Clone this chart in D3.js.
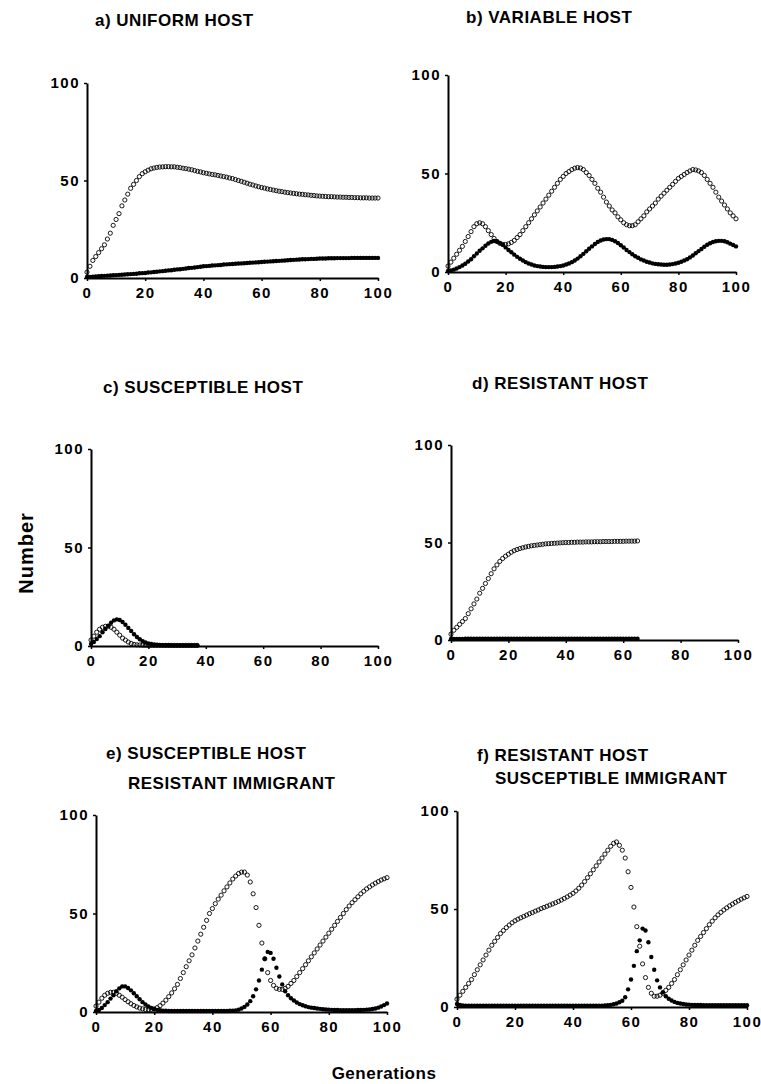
<!DOCTYPE html>
<html><head><meta charset="utf-8">
<script src="https://cdn.jsdelivr.net/npm/d3@7"></script>
<style>html,body{margin:0;padding:0;background:#fff;} svg{display:block;}</style>
</head><body>
<svg id="chart" width="761" height="1084"></svg>
<script>
// ---------- data (values per generation, starting at generation 0) ----------
const xTickValues = [0, 20, 40, 60, 80, 100];
const yTickValues = [0, 50, 100];

const titleA = ["a) UNIFORM HOST"];
const titleB = ["b) VARIABLE HOST"];
const titleC = ["c) SUSCEPTIBLE HOST"];
const titleD = ["d) RESISTANT HOST"];
const titleE = ["e) SUSCEPTIBLE HOST", "RESISTANT IMMIGRANT"];
const titleF = ["f) RESISTANT HOST", "SUSCEPTIBLE IMMIGRANT"];
const yAxisTitle = "Number";
const xAxisTitle = "Generations";

const aOpen = [3,6,9,11,13,15,17,20,23,27, 30,33,37,40,43,46,48,50,52,53.5,
  54.5,55.3,56,56.4,56.7,56.9,57,57.1,57.1,57, 57,56.8,56.6,56.3,56.1,55.8,55.5,55.1,54.7,54.4,
  54,53.7,53.4,53.1,52.9,52.6,52.3,52,51.7,51.3, 51,50.5,50,49.6,49.1,48.6,48.1,47.7,47.2,46.8,
  46.4,46.1,45.7,45.4,45.1,44.8,44.5,44.3,44,43.8, 43.6,43.4,43.2,43,42.9,42.7,42.6,42.4,42.3,42.1,
  42,41.9,41.8,41.7,41.7,41.6,41.5,41.5,41.4,41.4, 41.3,41.3,41.2,41.2,41.1,41.1,41.1,41,41,41,41];
const aFilled = [0.5,0.6,0.7,0.8,0.9,1,1.1,1.2,1.3,1.4, 1.5,1.6,1.7,1.8,1.9,2,2.1,2.2,2.4,2.5,
  2.6,2.8,2.9,3.1,3.2,3.4,3.5,3.7,3.9,4, 4.2,4.4,4.5,4.7,4.9,5.1,5.2,5.4,5.6,5.8,
  6,6.1,6.2,6.4,6.5,6.6,6.7,6.9,7,7.1, 7.2,7.3,7.4,7.5,7.6,7.7,7.8,7.9,8,8.1,
  8.2,8.3,8.4,8.5,8.6,8.7,8.8,8.9,9,9.1, 9.2,9.3,9.4,9.5,9.6,9.6,9.7,9.8,9.8,9.9,
  10,10,10,10.1,10.1,10.1,10.2,10.2,10.2,10.2, 10.2,10.3,10.3,10.3,10.3,10.3,10.3,10.3,10.3,10.3,10.3];

const bOpen = [3,5,7,9,11,13,15.5,18,20.5,23, 24.5,25,24.5,23,21,19,17,15.5,14.5,14,
  14,14.3,15,16,17.5,19,21,23,25,27, 29,31,33,35,37,39,41,43,45,47,
  48.5,50,51,52,52.7,53,52.8,52,50.5,49, 47,45,42.5,40.5,38,35.5,33.5,31.5,30,28,
  26.5,25,24,23.5,23.5,24,25.5,27,28.5,30.5, 32,33.5,35,37,38.5,40,41.5,43,44.5,46,
  47.5,48.5,49.5,50.5,51.3,52,51.8,51.3,50.5,49, 47,45,43,40.5,38,36,34,32,30,28.5,27];
const bFilled = [0.5,0.8,1.2,1.8,2.5,3.3,4.2,5.3,6.5,8, 9.4,10.8,12,13.3,14.5,15.3,15.7,15.5,14.8,13.8,
  12.5,11.2,10,8.8,7.7,6.7,5.8,5,4.3,3.8, 3.3,3,2.8,2.6,2.5,2.5,2.5,2.6,2.8,3,
  3.3,3.8,4.3,5,5.8,6.8,8,9.2,10.5,11.8, 13,14.2,15.2,16,16.5,16.7,16.7,16.3,15.6,14.7,
  13.6,12.4,11.2,10.1,9,8,7.2,6.4,5.8,5.2, 4.8,4.4,4.1,3.9,3.8,3.7,3.7,3.8,4,4.3,
  4.7,5.2,5.8,6.5,7.4,8.4,9.5,10.6,11.7,12.8, 13.8,14.6,15.2,15.6,15.8,15.8,15.6,15.1,14.4,13.7,13];

const cOpen = [3,5,7,8.5,9.5,10,10,9.5,8.5,7, 5.5,4,3,2,1.3,0.8,0.6,0.5,0.4,0.4,
  0.3,0.3,0.3,0.3,0.3,0.3,0.3,0.3,0.3,0.3, 0.3,0.3,0.3,0.3,0.3,0.3,0.3,0.3];
const cFilled = [1,2,3.5,5,7,8.6,10.3,11.8,13,13.5, 13.2,12.2,10.8,9.2,7.6,6,4.6,3.4,2.5,1.8,
  1.3,1,0.8,0.6,0.5,0.4,0.4,0.4,0.3,0.3, 0.3,0.3,0.3,0.3,0.3,0.3,0.3,0.3];

const dOpen = [3,5,6.5,8,9.5,11,13.5,16,18.5,21, 24,26.5,29,31.5,34,36.5,38.5,40.3,41.8,43,
  44,45,45.8,46.4,46.9,47.3,47.7,48,48.3,48.5, 48.7,48.9,49.1,49.3,49.4,49.5,49.6,49.7,49.8,49.9,
  50,50,50.1,50.1,50.2,50.2,50.2,50.3,50.3,50.3, 50.4,50.4,50.4,50.5,50.5,50.5,50.5,50.6,50.6,50.6,
  50.6,50.7,50.7,50.7,50.7,50.8];
const dFilled = [0.5,0.5,0.6,0.6,0.6,0.7,0.7,0.7,0.7,0.7, 0.7,0.7,0.7,0.7,0.7,0.7,0.7,0.7,0.7,0.7,
  0.7,0.7,0.7,0.7,0.7,0.7,0.7,0.7,0.7,0.7, 0.7,0.7,0.7,0.7,0.7,0.7,0.7,0.7,0.7,0.7,
  0.7,0.7,0.7,0.7,0.7,0.7,0.7,0.7,0.7,0.7, 0.7,0.7,0.7,0.7,0.7,0.7,0.7,0.7,0.7,0.7,
  0.7,0.7,0.7,0.7,0.7,0.7];

const eOpen = [3,5,7,8.5,9.5,10,10,9.5,8.5,7.5, 6.3,5.2,4.2,3.3,2.6,2,1.6,1.3,1.2,1.3,
  1.5,2.2,3.2,4.5,6,7.8,9.7,11.8,14,17, 20,23,26,29,32.5,36,39.5,43,46.5,50,
  52.5,55,57.3,59.3,61.5,63.5,65.5,67.5,69,70.3, 71,71,69.5,66,60,53,44,35,27,20,
  16,13.5,12,11.5,11.5,12,13,14.5,16,18, 20,22,24,26,28,30,32,34,36,38,
  40,42,44,46,48,50,52,53.8,55.5,57, 58.5,60,61.3,62.5,63.5,64.5,65.4,66.2,67,67.6,68.2];
const eFilled = [0.5,1,2,3.5,5,6.8,8.5,10.5,12,13, 13,12.2,11,9.5,8,6.5,5,3.8,2.8,2,
  1.5,1.1,0.9,0.7,0.6,0.5,0.5,0.5,0.5,0.5, 0.5,0.5,0.5,0.5,0.5,0.5,0.5,0.5,0.5,0.5,
  0.5,0.5,0.5,0.5,0.5,0.5,0.6,0.7,0.8,1.2, 1.8,2.6,3.8,5.5,8,11.5,16,21.5,27,30.5,
  30,27,22.5,18,14,10.5,8.5,7,5.8,4.8, 4,3.4,2.9,2.5,2.2,2,1.8,1.6,1.4,1.3,
  1.2,1.1,1,1,0.9,0.9,0.9,0.9,0.9,0.9, 1,1,1.1,1.2,1.3,1.5,1.8,2.2,2.8,3.5,4.3];

const fOpen = [4,6,8,10,12,14,16.5,19,21.5,24, 26.5,29,31.5,33.5,35.5,37.5,39,40.5,41.8,43,
  44,44.8,45.5,46.2,46.9,47.6,48.2,48.9,49.5,50.2, 50.8,51.4,52,52.6,53.2,53.9,54.6,55.4,56.2,57.1,
  58,59.2,60.6,62.2,64,66,68,70,72,74, 76,78,80,82,83.5,84.2,82.5,80,76,69,
  61,51,41,31,22,15,10,7,5.5,5.5, 6,7,8.5,10,12,14,16.5,19,21.5,24,
  26.5,29,31.5,34,36,38,40,42,43.8,45.5, 47,48.3,49.5,50.6,51.6,52.5,53.4,54.2,55,55.7,56.4];
const fFilled = [1.5,1,0.8,0.7,0.6,0.6,0.6,0.6,0.6,0.6, 0.6,0.6,0.6,0.6,0.6,0.6,0.6,0.6,0.6,0.6,
  0.6,0.6,0.6,0.6,0.6,0.6,0.6,0.6,0.6,0.6, 0.6,0.6,0.6,0.6,0.6,0.6,0.6,0.6,0.6,0.6,
  0.6,0.6,0.6,0.6,0.6,0.6,0.6,0.6,0.6,0.6, 0.7,0.8,0.9,1.1,1.4,1.8,2.4,3.2,5,9,
  14,21,28.5,34,40,39,33,25.5,19,13.6, 10,7.5,5.5,4.2,3.3,2.6,2.1,1.8,1.5,1.3,
  1.2,1.1,1,1,1,0.9,0.9,0.9,0.9,0.9, 0.9,0.9,0.9,0.9,0.9,0.9,0.9,0.9,0.9,0.9,0.9];

// ---------- layout ----------
const panels = [
  {title: titleA, tx: [95], ty: [26], open: aOpen, filled: aFilled, x0: 87, x1: 378, y0: 278, y1: 83},
  {title: titleB, tx: [466], ty: [23], open: bOpen, filled: bFilled, x0: 448, x1: 736, y0: 272, y1: 75},
  {title: titleC, tx: [103], ty: [393], open: cOpen, filled: cFilled, x0: 91, x1: 378, y0: 646, y1: 449},
  {title: titleD, tx: [472], ty: [389], open: dOpen, filled: dFilled, x0: 451, x1: 738, y0: 640, y1: 445},
  {title: titleE, tx: [106, 128], ty: [759, 789], open: eOpen, filled: eFilled, x0: 96, x1: 387, y0: 1012, y1: 815},
  {title: titleF, tx: [477, 495], ty: [761, 784], open: fOpen, filled: fFilled, x0: 457, x1: 747, y0: 1007, y1: 811}
];

const FONT = "'Liberation Sans', Arial, Helvetica, sans-serif";
const svg = d3.select("#chart");
svg.append("rect").attr("width", 761).attr("height", 1084).attr("fill", "#fff");

panels.forEach(p => {
  const g = svg.append("g");
  const x = d3.scaleLinear().domain([0, 100]).range([p.x0, p.x1]);
  const y = d3.scaleLinear().domain([0, 100]).range([p.y0, p.y1]);

  p.title.forEach((t, i) => {
    g.append("text").attr("x", p.tx[i]).attr("y", p.ty[i])
      .attr("font-family", FONT).attr("font-weight", "bold").attr("font-size", 17)
      .attr("letter-spacing", 0.5).attr("fill", "#000").text(t);
  });

  const ya = g.append("g").attr("transform", `translate(${p.x0},0)`)
    .call(d3.axisLeft(y).tickValues(yTickValues).tickSize(3).tickSizeOuter(0).tickPadding(4));
  const xa = g.append("g").attr("transform", `translate(0,${p.y0})`)
    .call(d3.axisBottom(x).tickValues(xTickValues).tickSize(3).tickSizeOuter(0).tickPadding(6));
  [ya, xa].forEach(a => {
    a.select(".domain").attr("stroke", "#000").attr("stroke-width", 2);
    a.selectAll(".tick line").attr("stroke", "#000").attr("stroke-width", 1.5);
    a.selectAll(".tick text").attr("font-family", FONT).attr("font-weight", "bold")
      .attr("font-size", 15).attr("letter-spacing", 1.5).attr("fill", "#000");
  });

  g.append("g").selectAll("circle").data(p.open).join("circle")
    .attr("cx", (d, i) => x(i)).attr("cy", d => y(d)).attr("r", 2.1)
    .attr("fill", "none").attr("stroke", "#000").attr("stroke-width", 0.9);
  g.append("g").selectAll("circle").data(p.filled).join("circle")
    .attr("cx", (d, i) => x(i)).attr("cy", d => y(d)).attr("r", 2.2)
    .attr("fill", "#000");
});

svg.append("text").attr("transform", "translate(33,553) rotate(-90)")
  .attr("text-anchor", "middle").attr("font-family", FONT).attr("font-weight", "bold")
  .attr("font-size", 20).attr("letter-spacing", 1).text(yAxisTitle);
svg.append("text").attr("x", 384).attr("y", 1079)
  .attr("text-anchor", "middle").attr("font-family", FONT).attr("font-weight", "bold")
  .attr("font-size", 17).attr("letter-spacing", 0.5).text(xAxisTitle);
</script>
</body></html>
